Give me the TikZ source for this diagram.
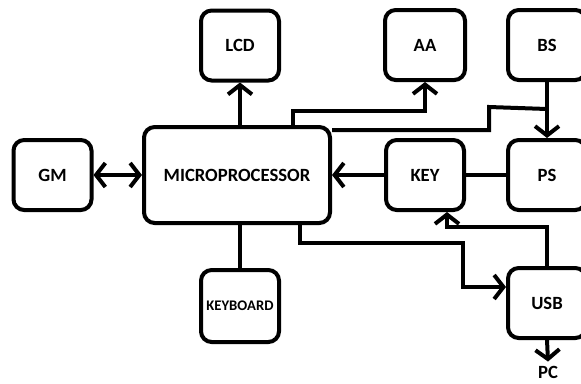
\documentclass[tikz,border=0pt]{standalone}
\usepackage{fontspec}
\setmainfont{Carlito}
\usetikzlibrary{arrows.meta}

\tikzset{
  blk/.style={draw, line width=3pt, rounded corners=8pt, minimum width=58.5pt, minimum height=52.5pt, inner sep=0pt, font=\fontsize{14}{16}\selectfont\bfseries},
  conn/.style={line width=3pt, arrows={-Straight Barb[length=7pt,width=18pt,line width=3pt]}},
  both/.style={line width=3pt, arrows={Straight Barb[length=7pt,width=18pt,line width=3pt]-Straight Barb[length=7pt,width=18pt,line width=3pt]}},
  plain/.style={line width=3pt}
}

\begin{document}
\begin{tikzpicture}[x=0.75pt, y=-0.75pt]
            \useasboundingbox (0,0) rectangle (581,383);

            % top row
            \node[blk] (lcd) at (240,45.5) {LCD};
            \node[blk, minimum width=60pt] (aa) at (425,45) {AA};
            \node[blk] (bs) at (547,45) {BS};

            % middle row
            \node[blk] (gm) at (52.5,175) {GM};
            \node[blk, minimum width=139.5pt, minimum height=72pt] (mp) at (237,175) {MICROPROCESSOR};
            \node[blk] (key) at (425,175) {KEY};
            \node[blk] (ps) at (547,175) {PS};

            % bottom row
            \node[blk, minimum height=54pt, font=\fontsize{11}{13}\selectfont\bfseries] (kb) at (240,306) {KEYBOARD};
            \node[blk] (usb) at (547,303) {USB};
            \node[font=\fontsize{14}{16}\selectfont\bfseries, inner sep=0pt] (pc) at (548,372) {PC};

            \draw[conn] (lcd.south |- mp.north) -- (lcd.south);
            \draw[both] (gm.east) -- (mp.west);
            \draw[conn] ([xshift=42pt]mp.north) -- ++(0,-14) -| (aa.south);
            \draw[plain] ([yshift=-3.75pt]mp.north east) -- ++(157,0) -- ++(0,-23) -- (bs.south |- 0,109);
            \draw[conn] (bs.south) -- (ps.north);
            \draw[conn] (key.west) -- (mp.east);
            \draw[plain] (key.east) -- (ps.west);
            \draw[plain] (kb.north |- mp.south) -- (kb.north);

            % USB links
            \draw[conn] ([xshift=47.25pt]mp.south) |- (463,243) |- ([yshift=12pt]usb.west);
            \draw[conn] (usb.north) |- (447,227) -- ([xshift=16.5pt]key.south);
            \draw[conn] (usb.south) -- ([yshift=3pt]pc.north);
        \end{tikzpicture}
\end{document}
